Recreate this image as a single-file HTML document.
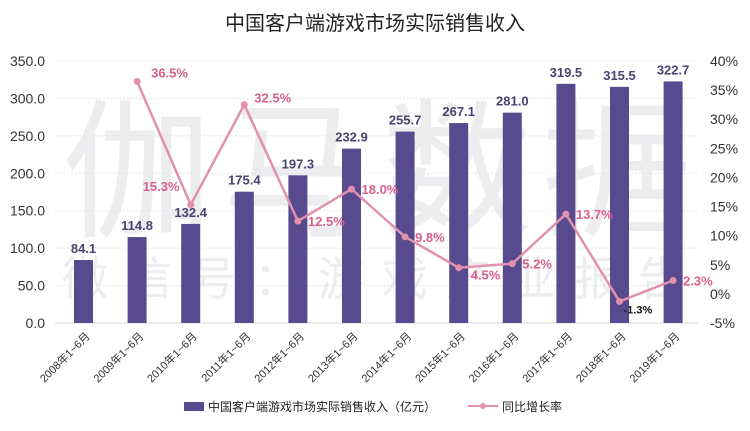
<!DOCTYPE html>
<html><head><meta charset="utf-8"><style>
body{margin:0;background:#fff;}
svg text{font-family:"Liberation Sans","Noto Sans CJK SC",sans-serif;}
</style></head><body>
<svg width="750" height="426" viewBox="0 0 750 426" xmlns="http://www.w3.org/2000/svg">
<rect width="750" height="426" fill="#fff"/>
<text x="375" y="30" text-anchor="middle" font-size="20" fill="#222">中国客户端游戏市场实际销售收入</text>
<g id="wm" fill="#ededf0">
<text x="62" y="225" font-size="150" letter-spacing="10">伽马数据</text>
<text x="62" y="295" font-size="46" letter-spacing="18">微信号：游戏产业报告</text>
</g>
<g id="grid"></g><g id="bars"></g><g id="line"></g><g id="axes"></g>
<g>
<rect x="184" y="402" width="20" height="9" fill="#574a8e"/>
<text x="208" y="411" font-size="12" fill="#222">中国客户端游戏市场实际销售收入（亿元）</text>
<line x1="468" y1="406" x2="498" y2="406" stroke="#e191ad" stroke-width="2"/>
<circle cx="483" cy="406" r="3" fill="#e191ad"/>
<text x="502" y="411" font-size="12" fill="#222">同比增长率</text>
</g>
</svg>
<script>
const categories=["2008年1~6月","2009年1~6月","2010年1~6月","2011年1~6月","2012年1~6月","2013年1~6月","2014年1~6月","2015年1~6月","2016年1~6月","2017年1~6月","2018年1~6月","2019年1~6月"];
const revenue=[84.1,114.8,132.4,175.4,197.3,232.9,255.7,267.1,281.0,319.5,315.5,322.7];
const growth=[null,36.5,15.3,32.5,12.5,18.0,9.8,4.5,5.2,13.7,-1.3,2.3];
const leftTicks=[0,50,100,150,200,250,300,350];
const rightTicks=[-5,0,5,10,15,20,25,30,35,40];
// label placement (layout only): [dx, dy]
const labelOffsets=[null,[14,-4],[-48,-14],[10,-2],[10,5],[10,5],[10,5],[12,12],[10,5],[10,5],[4,12],[10,5]];
const NS="http://www.w3.org/2000/svg";
const plotTop=61,plotBot=323,x0=56.7,step=53.6;
const yL=v=>plotBot-(v/350)*(plotBot-plotTop);
const yR=v=>plotBot-((v+5)/45)*(plotBot-plotTop);
const xC=i=>x0+step*(i+0.5);
function mk(t,a,p){const e=document.createElementNS(NS,t);for(const k in a)e.setAttribute(k,a[k]);p.appendChild(e);return e;}
const grid=document.getElementById('grid'),bars=document.getElementById('bars'),line=document.getElementById('line'),axes=document.getElementById('axes');
leftTicks.forEach(v=>{
 const l=mk('line',{x1:55,x2:698,y1:yL(v),y2:yL(v),stroke:v===0?'#d8d8d8':'#e4e4e4','stroke-dasharray':v===0?'':'2,2'},grid);
 
 
 const t=mk('text',{x:45,y:yL(v)+5,'text-anchor':'end','font-size':14,fill:'#333'},axes);
 t.textContent=v.toFixed(1);
 
 
});
rightTicks.forEach(v=>{
 const t=mk('text',{x:710,y:yR(v)+5,'font-size':14,fill:'#333'},axes);
 t.textContent=v+'%';
 
 
});
revenue.forEach((v,i)=>{
 const b=mk('rect',{x:xC(i)-9.5,y:yL(v),width:19,height:plotBot-yL(v),fill:'#574a8e'},bars);
 
 
 const t=mk('text',{x:xC(i),y:yL(v)-7,'text-anchor':'middle','font-size':13,'font-weight':'bold',fill:'#4a4270'},bars);
 t.textContent=v.toFixed(1);
 
 
 const c=mk('text',{x:0,y:0,'text-anchor':'end','font-size':11,fill:'#333',transform:`translate(${xC(i)+7},${plotBot+14}) rotate(-45)`},axes);
 c.textContent=categories[i];
 
 
});
let pts=[];growth.forEach((g,i)=>{if(g!==null)pts.push([xC(i),yR(g),g,i]);});
const pl=mk('polyline',{points:pts.map(p=>p[0]+','+p[1]).join(' '),fill:'none',stroke:'#e191ad','stroke-width':2.5},line);


pts.forEach(p=>{
 const c=mk('circle',{cx:p[0],cy:p[1],r:3.5,fill:'#e191ad'},line);
 
 
 const neg=p[2]<0;
 const o=labelOffsets[p[3]]||[10,5];
 const t=mk('text',{x:p[0]+o[0],y:p[1]+o[1],'font-size':neg?11:13,'font-weight':'bold',fill:neg?'#111':'#d8608e'},line);
 t.textContent=p[2].toFixed(1)+'%';
 
 
});
</script>
</body></html>
